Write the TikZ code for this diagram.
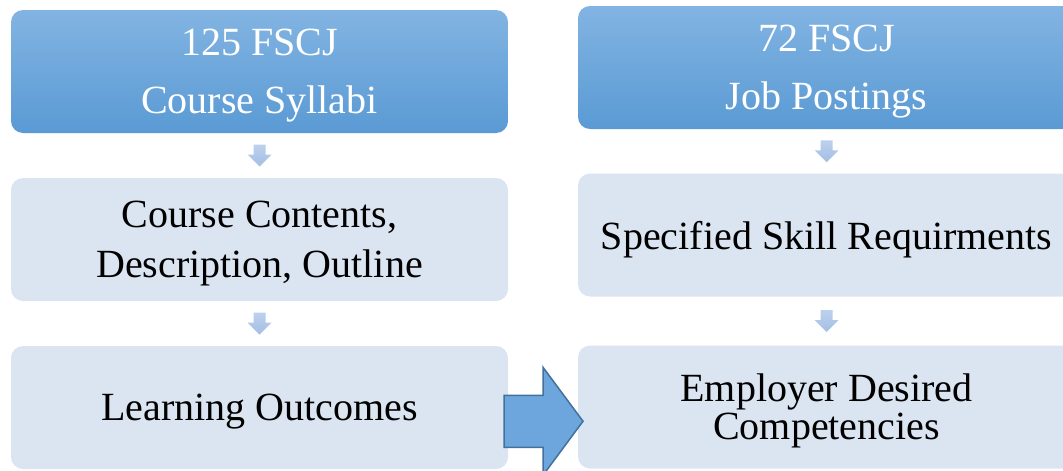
\documentclass[tikz,border=0pt]{standalone}
\usepackage{fontspec}
\setmainfont{Liberation Serif}
\usetikzlibrary{calc}

\definecolor{headtop}{HTML}{82B4E2}
\definecolor{headbot}{HTML}{5A9AD4}
\definecolor{stepfill}{HTML}{DBE4F1}
\definecolor{chevtop}{HTML}{BCD1ED}
\definecolor{chevbot}{HTML}{A4BEE3}
\definecolor{bigfill}{HTML}{6CA6DC}
\definecolor{bigline}{HTML}{41719C}

% small gradient block arrow pointing down, centred on a named coordinate
\newcommand\blockdown[1]{%
  \begin{scope}[shift={(#1)}]
    \path[downarrow] (-6,-11) -- (6,-11) -- (6,-1) -- (12,-1) -- (0,11)
      -- (-12,-1) -- (-6,-1) -- cycle;
  \end{scope}}

\begin{document}
\begin{tikzpicture}[x=1pt,y=-1pt,
  box/.style={minimum width=497pt, minimum height=123pt, rounded corners=12pt,
    inner sep=0pt, align=center, text depth=0pt,
    font=\fontsize{40}{50}\selectfont},
  headbox/.style={box, top color=headtop, bottom color=headbot, text=white,
    font=\fontsize{40}{58}\selectfont},
  stepbox/.style={box, fill=stepfill, text=black},
  downarrow/.style={top color=chevtop, bottom color=chevbot, draw=none},
  bigarrow/.style={fill=bigfill, draw=bigline, line width=1.5pt, line join=miter}]

\useasboundingbox (0,0) rectangle (1063,471);
\clip (0,0) rectangle (1063,471);

% left column: syllabi
\node[headbox] (l1) at (259.5,71.5) {125 FSCJ\\Course Syllabi};
\node[stepbox] (l2) at (259.5,239.5) {Course Contents,\\Description, Outline};
\node[stepbox] (l3) at (259.5,407.5) {Learning Outcomes};

% right column: job postings
\node[headbox] (r1) at (826.5,67.5) {72 FSCJ\\Job Postings};
\node[stepbox] (r2) at (826.5,235) {Specified Skill Requirments};
\node[stepbox, font=\fontsize{40}{38}\selectfont] (r3) at (826.5,407)
  {Employer Desired\\Competencies};

% down arrows between the steps
\coordinate (la) at ($(l1.south)!0.5!(l2.north)$);
\coordinate (lb) at ($(l2.south)!0.5!(l3.north)$);
\coordinate (ra) at ($(r1.south)!0.5!(r2.north)$);
\coordinate (rb) at ($(r2.south)!0.5!(r3.north)$);
\blockdown{la}
\blockdown{lb}
\blockdown{ra}
\blockdown{rb}

% large arrow from outcomes to competencies
\coordinate (mid) at ($(l3.east)!0.5!(r3.west)$);
\begin{scope}[shift={(mid)}, yshift=-14pt]
  \path[bigarrow] (-39,-26) -- (0,-26) -- (0,-54) -- (40,0) -- (0,54)
    -- (0,26) -- (-39,26) -- cycle;
\end{scope}

\end{tikzpicture}
\end{document}
